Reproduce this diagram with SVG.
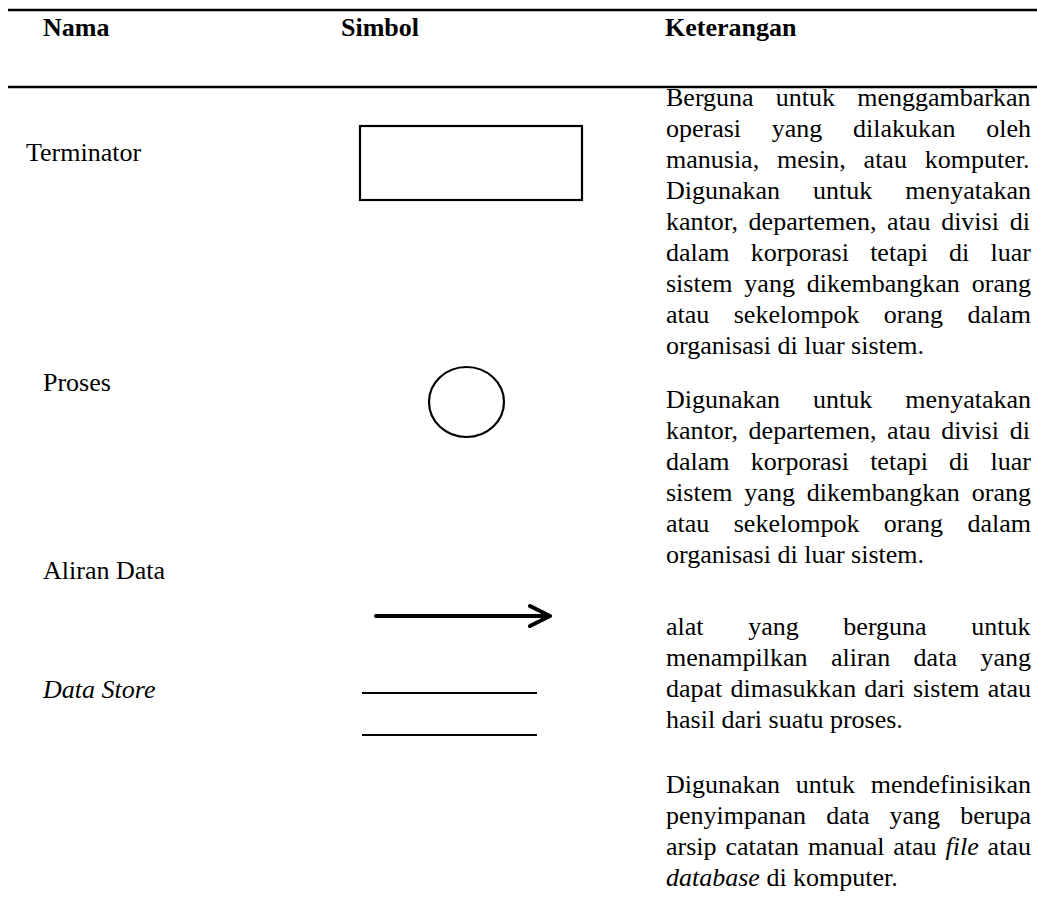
<svg xmlns="http://www.w3.org/2000/svg" width="1037" height="909" viewBox="0 0 1037 909">
  <style>
    text { font-family: "Liberation Serif", "Times New Roman", serif; font-size: 26px; fill: #000; }
    .hd { font-weight: bold; }
    .it { font-style: italic; }
    .rule { stroke: #000; stroke-width: 2.5; fill: none; }
    .sym { stroke: #000; stroke-width: 2.2; fill: none; }
    .flow { stroke: #000; stroke-width: 4; fill: none; stroke-linecap: round; stroke-linejoin: round; }
  </style>

  <rect width="1037" height="909" fill="#fff"/>

  <!-- table rules -->
  <g id="rules">
    <line class="rule" x1="8" y1="10" x2="1037" y2="10"/>
    <line class="rule" x1="8" y1="87" x2="1037" y2="87"/>
  </g>

  <!-- header row -->
  <g id="header">
    <text class="hd" x="43" y="36">Nama</text>
    <text class="hd" x="341" y="36">Simbol</text>
    <text class="hd" x="665" y="36">Keterangan</text>
  </g>

  <!-- Terminator row -->
  <g id="row-terminator">
    <text x="26" y="161">Terminator</text>
    <rect class="sym" x="360" y="126" width="222" height="74"/>
    <text x="666" y="106" style="word-spacing:15.71px">Berguna untuk menggambarkan</text>
    <text x="666" y="137" style="word-spacing:24.18px">operasi yang dilakukan oleh</text>
    <text x="666" y="168" style="word-spacing:11.42px">manusia, mesin, atau komputer.</text>
    <text x="666" y="199" style="word-spacing:26.53px">Digunakan untuk menyatakan</text>
    <text x="666" y="230" style="word-spacing:4.23px">kantor, departemen, atau divisi di</text>
    <text x="666" y="261" style="word-spacing:14.71px">dalam korporasi tetapi di luar</text>
    <text x="666" y="292" style="word-spacing:5.40px">sistem yang dikembangkan orang</text>
    <text x="666" y="323" style="word-spacing:17.93px">atau sekelompok orang dalam</text>
    <text x="666" y="354">organisasi di luar sistem.</text>
  </g>

  <!-- Proses row -->
  <g id="row-proses">
    <text x="43" y="391">Proses</text>
    <ellipse class="sym" cx="466.5" cy="402" rx="37.5" ry="35"/>
    <text x="666" y="408" style="word-spacing:26.53px">Digunakan untuk menyatakan</text>
    <text x="666" y="439" style="word-spacing:4.23px">kantor, departemen, atau divisi di</text>
    <text x="666" y="470" style="word-spacing:14.71px">dalam korporasi tetapi di luar</text>
    <text x="666" y="501" style="word-spacing:5.40px">sistem yang dikembangkan orang</text>
    <text x="666" y="532" style="word-spacing:17.93px">atau sekelompok orang dalam</text>
    <text x="666" y="563">organisasi di luar sistem.</text>
  </g>

  <!-- Aliran Data row -->
  <g id="row-aliran">
    <text x="43" y="579">Aliran Data</text>
    <path class="flow" d="M376 616 H548 M530 606 L550 616 L530 626"/>
    <text x="666" y="635" style="word-spacing:38.15px">alat yang berguna untuk</text>
    <text x="666" y="666" style="word-spacing:16.96px">menampilkan aliran data yang</text>
    <text x="666" y="697" style="word-spacing:1.71px">dapat dimasukkan dari sistem atau</text>
    <text x="666" y="728">hasil dari suatu proses.</text>
  </g>

  <!-- Data Store row -->
  <g id="row-datastore">
    <text class="it" x="43" y="698">Data Store</text>
    <line class="sym" x1="362" y1="693" x2="537" y2="693"/>
    <line class="sym" x1="362" y1="735" x2="537" y2="735"/>
    <text x="666" y="793" style="word-spacing:9.18px">Digunakan untuk mendefinisikan</text>
    <text x="666" y="824" style="word-spacing:13.60px">penyimpanan data yang berupa</text>
    <text x="666" y="855" style="word-spacing:2.38px">arsip catatan manual atau <tspan class="it">file</tspan> atau</text>
    <text x="666" y="886"><tspan class="it">database</tspan> di komputer.</text>
  </g>
</svg>
